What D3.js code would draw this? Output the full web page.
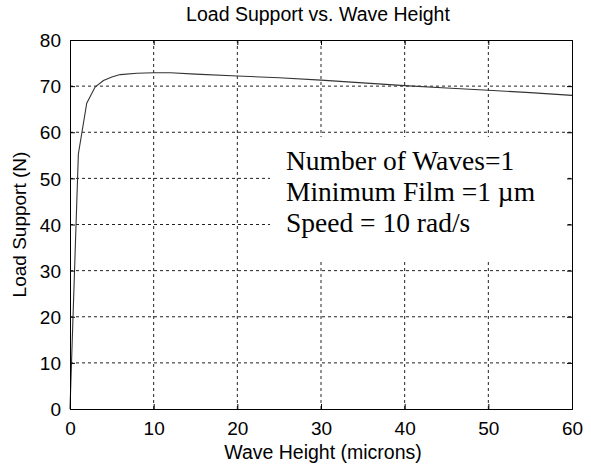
<!DOCTYPE html>
<html>
<head>
<meta charset="utf-8">
<script src="https://cdn.jsdelivr.net/npm/d3@7"></script>
<style>
html,body{margin:0;padding:0;background:#fff;}
svg{display:block;}
</style>
</head>
<body>
<svg id="chart" width="591" height="468"></svg>
<script>
const waveHeight = [0, 1, 2, 3, 4, 5, 6, 8, 10, 12, 15, 20, 25, 30, 35, 40, 45, 50, 55, 60];
const loadSupport = [0, 55.3, 66.3, 69.8, 71.2, 72.0, 72.5, 72.8, 72.9, 72.9, 72.6, 72.2, 71.8, 71.3, 70.7, 70.1, 69.6, 69.1, 68.6, 68.0];
const xTicks = [0, 10, 20, 30, 40, 50, 60];
const yTicks = [0, 10, 20, 30, 40, 50, 60, 70, 80];
const annotation = ["Number of Waves=1", "Minimum Film =1 \u00b5m", "Speed = 10 rad/s"];
const titleText = "Load Support vs. Wave Height";
const xLabel = "Wave Height (microns)";
const yLabel = "Load Support (N)";

const svg = d3.select("#chart");
const L = 70, R = 572, T = 40, B = 409;
const x = d3.scaleLinear().domain([0, 60]).range([L, R]);
const y = d3.scaleLinear().domain([0, 80]).range([B, T]);
const sans = "Arial, 'Liberation Sans', Helvetica, sans-serif";
const fs = 19;

// grid
const g = svg.append("g");
g.selectAll(".vg").data(xTicks.slice(1, -1)).enter().append("line")
  .attr("x1", d => x(d)).attr("x2", d => x(d)).attr("y1", T).attr("y2", B)
  .attr("stroke", "#222").attr("stroke-width", 1).attr("stroke-dasharray", "3,3");
g.selectAll(".hg").data(yTicks.slice(1, -1)).enter().append("line")
  .attr("y1", d => y(d)).attr("y2", d => y(d)).attr("x1", L).attr("x2", R)
  .attr("stroke", "#222").attr("stroke-width", 1).attr("stroke-dasharray", "3,3");

// axes (ticks inside)
const xAxB = d3.axisBottom(x).tickValues(xTicks).tickSize(-5).tickFormat(d3.format("d"));
const xAxT = d3.axisTop(x).tickValues(xTicks).tickSize(-5).tickFormat("");
const yAxL = d3.axisLeft(y).tickValues(yTicks).tickSize(-5).tickFormat(d3.format("d"));
const yAxR = d3.axisRight(y).tickValues(yTicks).tickSize(-5).tickFormat("");

function style(sel) {
  sel.selectAll("path").attr("stroke", "#000").attr("stroke-width", 1);
  sel.selectAll("line").attr("stroke", "#000");
  sel.selectAll("text").attr("fill", "#000").attr("font-family", sans).attr("font-size", fs);
}

// curve
const line = d3.line().x((d, i) => x(waveHeight[i])).y(d => y(d));
svg.append("path").datum(loadSupport).attr("d", line)
  .attr("fill", "none").attr("stroke", "#333").attr("stroke-width", 1.1);

// annotation box (white background hiding grid)
svg.append("rect").attr("x", 270).attr("y", 137).attr("width", 297).attr("height", 125)
  .attr("fill", "#fff");
svg.append("g").selectAll("text").data(annotation).enter().append("text")
  .attr("x", 286).attr("y", (d, i) => 170 + i * 31)
  .attr("font-family", "'Times New Roman', 'Liberation Serif', serif").attr("font-size", 27.5)
  .attr("fill", "#000").text(d => d);

const gxb = svg.append("g").attr("transform", `translate(0,${B})`).call(xAxB).call(style);
gxb.selectAll("text").attr("dy", null).attr("y", 26);
svg.append("g").attr("transform", `translate(0,${T})`).call(xAxT).call(style);
const gyl = svg.append("g").attr("transform", `translate(${L},0)`).call(yAxL).call(style);
gyl.selectAll("text").attr("x", -9).attr("dy", "0.35em");
svg.append("g").attr("transform", `translate(${R},0)`).call(yAxR).call(style);

// title & labels
svg.append("text").attr("x", (L + R) / 2 - 3).attr("y", 21).attr("text-anchor", "middle")
  .attr("font-family", sans).attr("font-size", 19.5).text(titleText);
svg.append("text").attr("x", (L + R) / 2 + 2).attr("y", 459).attr("text-anchor", "middle")
  .attr("font-family", sans).attr("font-size", 19.5).text(xLabel);
svg.append("text").attr("transform", `translate(26,${(T + B) / 2}) rotate(-90)`)
  .attr("text-anchor", "middle").attr("font-family", sans).attr("font-size", fs).text(yLabel);
</script>
</body>
</html>
